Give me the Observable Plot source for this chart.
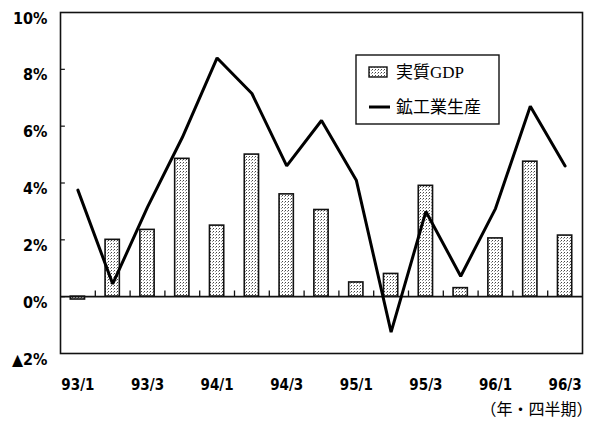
<!DOCTYPE html>
<html><head><meta charset="utf-8">
<script src="https://cdn.jsdelivr.net/npm/d3@7"></script>
<script src="https://cdn.jsdelivr.net/npm/@observablehq/plot@0.6"></script>
<style>
html,body{margin:0;padding:0;background:#fff;}
#chart{position:relative;width:595px;height:423px;}
#chart svg{display:block;}
</style></head><body><div id="chart"></div>
<script>
const quarters = ["93/1","93/2","93/3","93/4","94/1","94/2","94/3","94/4","95/1","95/2","95/3","95/4","96/1","96/2","96/3"];
const realGDP = [-0.1, 2.0, 2.35, 4.85, 2.5, 5.0, 3.6, 3.05, 0.5, 0.8, 3.9, 0.3, 2.05, 4.75, 2.15];
const industrialProduction = [3.75, 0.45, 3.15, 5.6, 8.4, 7.15, 4.6, 6.2, 4.1, -1.25, 3.0, 0.72, 3.1, 6.7, 4.6];
const xTickLabels = ["93/1","93/3","94/1","94/3","95/1","95/3","96/1","96/3"];
const yTicks = [-2, 0, 2, 4, 6, 8, 10];
const yTickLabels = ["▲2%","0%","2%","4%","6%","8%","10%"];
const seriesNames = ["実質GDP","鉱工業生産"];
const unitNote = "（年・四半期）";

const data = quarters.map((q, i) => ({q, i, gdp: realGDP[i], ip: industrialProduction[i]}));
const boundaries = quarters.slice(1).map((q, i) => i + 0.5);
const xTickIdx = xTickLabels.map(l => quarters.indexOf(l));
const halfBar = 0.205;
const numFont = '"Liberation Sans Narrow","DejaVu Sans Condensed","Arial Narrow",Arial,sans-serif';

const chart = Plot.plot({
  width: 595,
  height: 423,
  marginLeft: 60,
  marginRight: 13,
  marginTop: 12,
  marginBottom: 70,
  style: {fontFamily: numFont, background: "#fff", overflow: "visible"},
  x: {type: "linear", domain: [-0.5, quarters.length - 0.5]},
  y: {domain: [-2, 10]},
  marks: [
    Plot.rectY(data, {x1: d => d.i - halfBar, x2: d => d.i + halfBar, y1: 0, y2: "gdp", fill: "url(#stipple)", stroke: "#111", strokeWidth: 1.6}),
    Plot.ruleY([0], {stroke: "#111", strokeWidth: 1.6}),
    Plot.ruleX(boundaries, {x: d => d, y1: 0, y2: 0.2, stroke: "#111", strokeWidth: 1.3}),
    Plot.ruleY(yTicks.slice(1, -1), {y: d => d, x1: -0.5, x2: -0.36, stroke: "#111", strokeWidth: 1.2}),
    Plot.line(data, {x: "i", y: "ip", stroke: "#000", strokeWidth: 3, strokeLinejoin: "miter"}),
    Plot.frame({stroke: "#111", strokeWidth: 1.6}),
    Plot.axisY({ticks: yTicks, tickSize: 0, tickPadding: 13, dy: 6,
      tickFormat: d => yTickLabels[yTicks.indexOf(d)], fontSize: 16, fontWeight: "bold", label: null}),
    Plot.axisX({ticks: xTickIdx, tickSize: 0, tickPadding: 26,
      tickFormat: i => quarters[i], fontSize: 15, fontWeight: "bold", label: null}),
    Plot.text([unitNote], {text: d => d, frameAnchor: "bottom-right", dx: 10, dy: 61, textAnchor: "end",
      fontSize: 16, fontFamily: '"Noto Sans CJK JP",sans-serif'})
  ]
});

const svg = d3.select(chart);
const defs = svg.insert("defs", ":first-child");
const pat = defs.append("pattern").attr("id", "stipple").attr("patternUnits", "userSpaceOnUse")
  .attr("width", 3).attr("height", 3);
pat.append("rect").attr("width", 3).attr("height", 3).attr("fill", "#fff");
pat.append("rect").attr("x", 0).attr("y", 0).attr("width", 1).attr("height", 1).attr("fill", "#444");
pat.append("rect").attr("x", 2).attr("y", 1).attr("width", 1).attr("height", 1).attr("fill", "#999");

// legend
const lg = svg.append("g").attr("font-family", '"Liberation Serif","Noto Sans CJK JP",serif')
  .attr("font-size", 17).attr("text-anchor", "start");
lg.append("rect").attr("x", 356).attr("y", 55).attr("width", 143).attr("height", 69)
  .attr("fill", "#fff").attr("stroke", "#111").attr("stroke-width", 1.4);
lg.append("rect").attr("x", 369).attr("y", 67).attr("width", 18).attr("height", 10)
  .attr("fill", "url(#stipple)").attr("stroke", "#111").attr("stroke-width", 1.4);
lg.append("text").attr("x", 396).attr("y", 72).attr("dy", "0.35em").attr("text-anchor", "start").text(seriesNames[0]);
lg.append("line").attr("x1", 369).attr("x2", 390).attr("y1", 107).attr("y2", 107)
  .attr("stroke", "#000").attr("stroke-width", 3);
lg.append("text").attr("x", 396).attr("y", 107).attr("dy", "0.35em").attr("text-anchor", "start").text(seriesNames[1]);

document.getElementById("chart").appendChild(chart);
</script></body></html>
